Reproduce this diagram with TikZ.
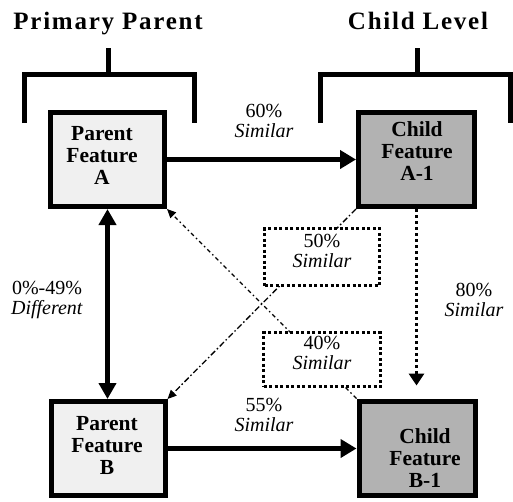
\documentclass[tikz,border=0pt]{standalone}
\usepackage{fontspec}
\setmainfont{Liberation Serif}
\usetikzlibrary{arrows.meta}
\definecolor{parentgray}{HTML}{F0F0F0}
\definecolor{childgray}{HTML}{B2B2B2}
\begin{document}
\begin{tikzpicture}[x=1pt,y=-1pt,
  feat/.style={draw,line width=5pt,minimum width=114pt,minimum height=94pt,inner sep=0pt},
  pfeat/.style={feat,fill=parentgray},
  cfeat/.style={feat,fill=childgray},
  ftext/.style={align=center,font=\fontsize{21.5}{22}\selectfont\bfseries,inner sep=0pt},
  lbl/.style={align=center,font=\fontsize{20}{20}\selectfont,inner sep=0pt},
  hdr/.style={anchor=base,inner sep=0pt,font=\fontsize{25}{25}\selectfont\bfseries\addfontfeatures{LetterSpace=7}},
  bracket/.style={line width=5pt,line join=miter},
  bigarrow/.style={line width=5.5pt,-{Triangle[length=16pt,width=18pt]}},
  bigdarrow/.style={line width=5.5pt,{Triangle[length=16pt,width=17pt]}-{Triangle[length=16pt,width=17pt]}},
  dotarrow/.style={line width=3pt,dash pattern=on 3pt off 3pt,-{Triangle[length=12pt,width=15pt]}},
  dashdotarrow/.style={line width=1.3pt,dash pattern=on 4pt off 3pt on 1.5pt off 3pt,-{Triangle[length=9pt,width=8pt]}},
  dasharrow/.style={line width=1.3pt,dash pattern=on 6pt off 2.5pt on 1.5pt off 2.5pt,-{Triangle[length=9pt,width=8pt]}},
  dotbox/.style={draw,fill=white,line width=3pt,dash pattern=on 3pt off 2.5pt,inner sep=0pt}
]
\useasboundingbox (0,0) rectangle (513,501);

% headers
\node[hdr] (h1) at (108,29) {Primary Parent};
\node[hdr] (h2) at (418,29) {Child Level};

% brackets
\draw[bracket] (24.5,123) -- (24.5,74.5) -- (194.5,74.5) -- (194.5,123);
\draw[bracket] (108,48) -- (108,74.5);
\draw[bracket] (320.5,123) -- (320.5,74.5) -- (510.5,74.5) -- (510.5,123);
\draw[bracket] (417,48) -- (417,74.5);

% feature boxes
\node[pfeat] (A) at (107.5,159.5) {};
\node[cfeat,minimum width=116pt] (A1) at (416.5,159.5) {};
\node[pfeat] (B) at (108,448.5) {};
\node[cfeat,minimum width=116pt] (B1) at (417,448) {};

\node[ftext] (tA) at (102,155) {Parent\\Feature\\A};
\node[ftext] (tA1) at (417,151) {Child\\Feature\\A-1};
\node[ftext] (tB) at (107,445) {Parent\\Feature\\B};
\node[ftext] (tB1) at (425,458) {Child\\Feature\\B-1};

% diagonal connectors
\draw[dashdotarrow] (B1.north west) -- (A.south east);
\draw[dasharrow] (A1.south west) -- (B.north east);

% solid connectors
\draw[bigarrow] (A) -- (A1);
\draw[bigarrow] (B.east) -- (B.east -| B1.west);
\draw[bigdarrow] (A.south) -- (A.south |- B.north);
\coordinate (dotend) at ([yshift=13pt]B1.north -| A1.south);
\draw[dotarrow] (A1.south) -- (dotend);

% callout boxes
\node[dotbox,minimum width=115pt,minimum height=57pt] (c50) at (322,257) {};
\node[lbl] (t50) at (322,251) {50\%\\\textit{Similar}};
\node[dotbox,minimum width=117pt,minimum height=54pt] (c40) at (322,359.5) {};
\node[lbl] (t40) at (322,353) {40\%\\\textit{Similar}};

% labels
\node[lbl] (l60) at (264,121) {60\%\\\textit{Similar}};
\node[lbl] (l55) at (264,415) {55\%\\\textit{Similar}};
\node[lbl] (l80) at (474,300) {80\%\\\textit{Similar}};
\node[lbl] (l049) at (47,300) {0\%-49\%\\\textit{Different}};
\end{tikzpicture}
\end{document}
